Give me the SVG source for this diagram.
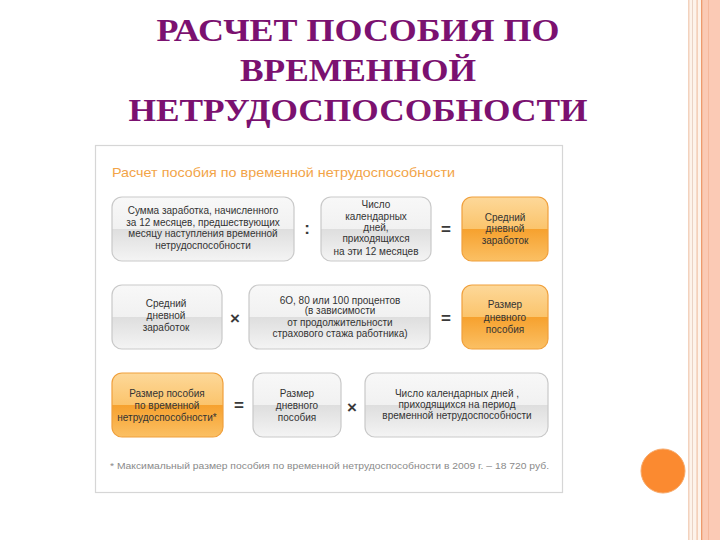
<svg xmlns="http://www.w3.org/2000/svg" width="720" height="540" viewBox="0 0 720 540">
<defs>
<linearGradient id="gGray" x1="0" y1="0" x2="0" y2="1">
<stop offset="0" stop-color="#f8f8f8"/>
<stop offset="0.5" stop-color="#f1f1f1"/>
<stop offset="0.5" stop-color="#dedede"/>
<stop offset="1" stop-color="#f4f4f4"/>
</linearGradient>
<linearGradient id="gOrange" x1="0" y1="0" x2="0" y2="1">
<stop offset="0" stop-color="#fdd899"/>
<stop offset="0.5" stop-color="#fbc46c"/>
<stop offset="0.5" stop-color="#f6a12e"/>
<stop offset="1" stop-color="#fbc064"/>
</linearGradient>
<style>
.title{font-family:"Liberation Serif","Times New Roman",serif;font-weight:bold;font-size:32px;fill:#7b1170;text-anchor:middle}
.gray{fill:url(#gGray);stroke:#c9c9c9;stroke-width:1.2}
.orange{fill:url(#gOrange);stroke:#f0a03c;stroke-width:1.2}
.t{font-family:"Liberation Sans",Arial,sans-serif;font-size:10px;fill:#333;text-anchor:middle}
.op{font-family:"Liberation Sans",Arial,sans-serif;font-size:17px;font-weight:bold;fill:#3a3a3a;text-anchor:middle}
.head{font-family:"Liberation Sans",Arial,sans-serif;font-size:13.5px;fill:#f2a448}
.foot{font-family:"Liberation Sans",Arial,sans-serif;font-size:9.5px;fill:#8a8a8a}
</style>
</defs>
<rect x="0" y="0" width="720" height="540" fill="#ffffff"/>
<g id="stripes">
<rect x="688" y="0" width="32" height="540" fill="#fdf3ea"/>
<rect x="688" y="0" width="1.5" height="540" fill="#f3d2bd"/>
<rect x="692" y="0" width="1" height="540" fill="#ead3c4"/>
<rect x="696.5" y="0" width="1.2" height="540" fill="#efc2a6"/>
<rect x="701" y="0" width="1.6" height="540" fill="#ee9a6e"/>
<rect x="703" y="0" width="17" height="540" fill="#fbcab5"/>
<rect x="708" y="0" width="1" height="540" fill="#f5b89c"/>
</g>
<circle id="dot" cx="663" cy="471" r="22" fill="#fb8a30" stroke="#f7a868" stroke-width="1"/>
<g id="title">
<text class="title" x="358" y="41" textLength="403" lengthAdjust="spacingAndGlyphs">РАСЧЕТ ПОСОБИЯ ПО</text>
<text class="title" x="358" y="81" textLength="236" lengthAdjust="spacingAndGlyphs">ВРЕМЕННОЙ</text>
<text class="title" x="358" y="121" textLength="459" lengthAdjust="spacingAndGlyphs">НЕТРУДОСПОСОБНОСТИ</text>
</g>
<g id="panel">
<rect x="95.5" y="145.5" width="467" height="347" fill="#ffffff" stroke="#d6d6d6" stroke-width="1.2"/>
<text class="head" x="112" y="177" textLength="343" lengthAdjust="spacingAndGlyphs">Расчет пособия по временной нетрудоспособности</text>
</g>
<g id="n1">
<rect class="gray" x="112" y="197" width="182" height="64" rx="10"/>
<text class="t" x="203" y="214">Сумма заработка, начисленного</text>
<text class="t" x="203" y="226">за 12 месяцев, предшествующих</text>
<text class="t" x="203" y="237">месяцу наступления временной</text>
<text class="t" x="203" y="249">нетрудоспособности</text>
</g>
<g id="n2">
<rect class="gray" x="321" y="197" width="110" height="64" rx="10"/>
<text class="t" x="376" y="208">Число</text>
<text class="t" x="376" y="219.5">календарных</text>
<text class="t" x="376" y="231">дней,</text>
<text class="t" x="376" y="242">приходящихся</text>
<text class="t" x="376" y="254.5">на эти 12 месяцев</text>
</g>
<g id="n3">
<rect class="orange" x="462" y="197" width="86" height="64" rx="10"/>
<text class="t" x="505" y="220.5">Средний</text>
<text class="t" x="505" y="232">дневной</text>
<text class="t" x="505" y="243.5">заработок</text>
</g>
<g id="n4">
<rect class="gray" x="112" y="285" width="110" height="64" rx="10"/>
<text class="t" x="166" y="306.5">Средний</text>
<text class="t" x="166" y="318.5">дневной</text>
<text class="t" x="166" y="331">заработок</text>
</g>
<g id="n5">
<rect class="gray" x="249" y="285" width="181" height="64" rx="10"/>
<text class="t" x="340" y="303.5">6О, 80 или 100 процентов</text>
<text class="t" x="340" y="314">(в зависимости</text>
<text class="t" x="340" y="325.5">от продолжительности</text>
<text class="t" x="340" y="337">страхового стажа работника)</text>
</g>
<g id="n6">
<rect class="orange" x="462" y="285" width="86" height="64" rx="10"/>
<text class="t" x="505" y="307.5">Размер</text>
<text class="t" x="505" y="321">дневного</text>
<text class="t" x="505" y="332.5">пособия</text>
</g>
<g id="n7">
<rect class="orange" x="112" y="373" width="111" height="64" rx="10"/>
<text class="t" x="167" y="396.5">Размер пособия</text>
<text class="t" x="167" y="408.5">по временной</text>
<text class="t" x="167" y="420.5">нетрудоспособности*</text>
</g>
<g id="n8">
<rect class="gray" x="253" y="373" width="88" height="64" rx="10"/>
<text class="t" x="297" y="396.5">Размер</text>
<text class="t" x="297" y="408.5">дневного</text>
<text class="t" x="297" y="420.5">пособия</text>
</g>
<g id="n9">
<rect class="gray" x="365" y="373" width="183" height="64" rx="10"/>
<text class="t" x="457" y="396.5">Число календарных дней ,</text>
<text class="t" x="457" y="407.5">приходящихся на период</text>
<text class="t" x="457" y="418.5">временной нетрудоспособности</text>
</g>
<g id="connectors">
<text class="op" x="307" y="234">:</text>
<text class="op" x="446" y="235">=</text>
<text class="op" x="235" y="324">×</text>
<text class="op" x="446" y="324">=</text>
<text class="op" x="239" y="411">=</text>
<text class="op" x="352" y="413">×</text>
</g>
<text class="foot" x="110" y="469" textLength="439" lengthAdjust="spacingAndGlyphs">* Максимальный размер пособия по временной нетрудоспособности в 2009 г. – 18 720 руб.</text>
</svg>
